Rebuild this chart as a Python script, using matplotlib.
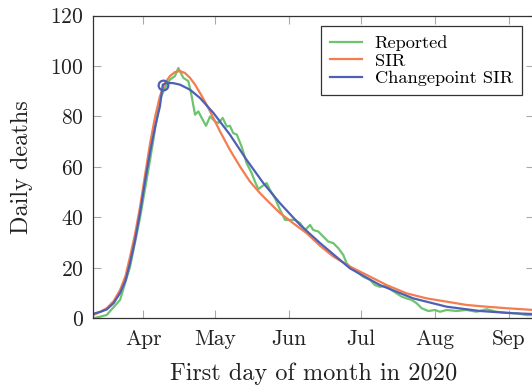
import numpy as np
import pandas as pd
import matplotlib
matplotlib.use("Agg")
import matplotlib.pyplot as plt
import matplotlib.dates as mdates

# days relative to 1 April 2020
start = pd.Timestamp("2020-04-01")

reported_days = [-21, -15.4, -9.8, -5.6, -1.4, 2.8, 6.9, 9.0, 11.1, 13.2, 14.6, 16.7,
                 18.8, 20.2, 21.6, 23.0, 24.4, 26.2, 27.9, 30.0, 31.4, 33.2, 34.9,
                 36.2, 37.6, 39.1, 41.1, 43.2, 45.3, 46.7, 48.1, 49.5, 51.6, 53.0,
                 55.1, 57.2, 59.3, 61.4, 63.5, 65.6, 67.7, 69.8, 71.1, 73.2, 75.3,
                 77.4, 79.5, 81.6, 83.7, 85.1, 86.5, 89.3, 92.0, 94.9, 96.9, 99.0,
                 101.8, 103.9, 106.0, 108.1, 110.2, 112.3, 114.4, 116.5, 119.3,
                 122.1, 124.2, 127.0, 131.1, 135.3, 139.5, 143.7, 147.9, 152.1,
                 156.3, 160.4, 163.4]
reported = [0.0, 1.3, 7.3, 20.5, 40.0, 63.0, 86.7, 91.3, 94.6, 96.0, 99.2, 95.3,
            94.0, 88.0, 80.7, 82.0, 79.4, 76.3, 80.0, 78.0, 77.4, 79.4, 76.0,
            76.3, 73.4, 72.8, 68.1, 61.5, 57.6, 54.2, 51.2, 52.2, 53.6, 50.9,
            47.6, 43.0, 39.0, 39.0, 39.0, 37.7, 35.0, 37.0, 35.0, 34.4, 32.4,
            30.4, 29.8, 27.8, 25.1, 21.8, 20.5, 18.5, 16.5, 15.2, 13.2, 12.5,
            12.8, 11.2, 9.9, 8.6, 7.9, 7.3, 6.0, 4.0, 2.9,
            3.3, 2.6, 3.3, 2.9, 3.3, 2.6, 3.6, 2.6, 2.2,
            2.0, 1.3, 1.3]

sir_days = [-21, -18, -15.4, -12.5, -9.8, -7.5, -5.6, -3.5, -1.4, 0.7, 2.8, 4.9,
            6.9, 9.0, 11.1, 13.2, 15.3, 17.4, 19.5, 21.6, 23.7, 25.8, 27.9,
            32.1, 36.2, 40.4, 44.6, 48.8, 53.0, 57.2, 62.7, 68.4, 74.0, 79.5,
            86.5, 93.5, 101.8, 110.2, 118.6, 127.0, 135.3, 143.7, 152.1, 163.4]
sir = [1.3, 2.6, 4.0, 6.8, 11.2, 16.8, 24.5, 33.5, 44.3, 57.0, 69.5, 80.0,
       88.0, 93.2, 96.0, 97.6, 98.0, 97.2, 95.3, 92.6, 89.3, 85.8, 82.0,
       74.0, 66.8, 60.2, 54.2, 49.6, 45.6, 41.7, 37.7, 33.7, 28.7, 24.5,
       20.5, 17.2, 13.2, 9.9, 7.9, 6.6, 5.3, 4.6, 4.0, 3.3]

cp_days = [-21, -18, -15.4, -12.5, -9.8, -7.5, -5.6, -3.5, -1.4, 0.7, 2.8, 4.9,
           6.9, 8.1, 9.8, 12.5, 15.3, 19.5, 23.7,
           29.3, 36.2, 43.2, 50.2, 57.2, 65.6, 74.0, 86.5, 99.0, 113.0, 127.0,
           140.9, 154.8, 163.4]
cp_sir = [1.8, 2.6, 3.5, 6.0, 10.0, 15.0, 22.0, 31.0, 42.0, 54.5, 66.0, 76.0,
          84.0, 92.6, 93.3, 93.2, 92.6, 90.6, 87.3,
          81.4, 72.8, 62.8, 53.6, 45.6, 37.0, 29.8, 19.8, 13.2, 7.9, 4.6,
          2.9, 2.0, 1.7]

changepoint_day = 8.1
changepoint_val = 92.6


def to_dates(days):
    return start + pd.to_timedelta(np.array(days), unit="D")


plt.rcParams["font.family"] = "cmr10"
plt.rcParams["axes.formatter.use_mathtext"] = True
plt.rcParams["mathtext.fontset"] = "cm"

fig = plt.figure(figsize=(5.32, 3.88), dpi=100)
ax = fig.add_axes([0.1754, 0.1796, 0.8276, 0.7804])

green = "#6cc46f"
orange = "#f47d50"
blue = "#4e5fb5"

ax.plot(to_dates(reported_days), reported, color=green, lw=1.6, label="Reported")
ax.plot(to_dates(sir_days), sir, color=orange, lw=1.6, label="SIR")
ax.plot(to_dates(cp_days), cp_sir, color=blue, lw=1.6, label="Changepoint SIR")
ax.plot(to_dates([changepoint_day]), [changepoint_val], "o", mfc="none",
        mec=blue, mew=1.6, ms=7)

ax.set_xlim(to_dates([-21])[0], to_dates([163.4])[0])
ax.set_ylim(0, 120)
ax.set_yticks(np.arange(0, 121, 20))
ax.xaxis.set_major_locator(mdates.MonthLocator(bymonth=range(4, 10)))
ax.xaxis.set_major_formatter(mdates.DateFormatter("%b"))
ax.xaxis.set_minor_locator(matplotlib.ticker.NullLocator())

ax.tick_params(direction="in", length=6, width=0.8, color="#aaaaaa",
               top=True, right=True, labelsize=15.5, labelcolor="#222222")
ax.tick_params(axis="x", pad=8)
ax.tick_params(axis="y", pad=7)
for s in ax.spines.values():
    s.set_color("#333333")
    s.set_linewidth(0.9)

ax.set_xlabel("First day of month in 2020", fontsize=17.5, labelpad=10, color="#222222")
ax.set_ylabel("Daily deaths", fontsize=17.5, labelpad=12, color="#222222")

leg = ax.legend(loc="upper right", bbox_to_anchor=(0.973, 0.964), borderaxespad=0,
                fontsize=13.2, fancybox=False, framealpha=1, edgecolor="#333333",
                handlelength=1.75, handletextpad=0.7, labelspacing=0.1,
                borderpad=0.48)
leg.get_frame().set_linewidth(0.9)

fig.savefig("out.png", dpi=100)
